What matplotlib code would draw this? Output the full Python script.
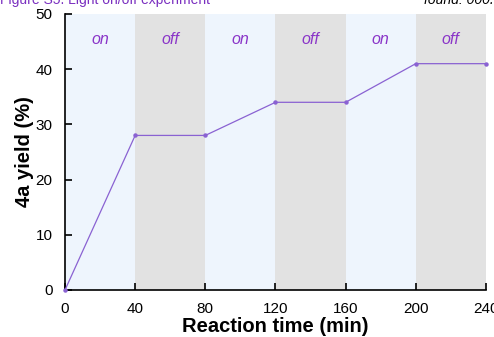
import numpy as np
import matplotlib.pyplot as plt

plt.rcParams['font.family'] = ['Liberation Sans', 'DejaVu Sans']

# reaction time (min) and yield (%)
time_min = [0, 40, 80, 120, 160, 200, 240]
yield_pct = [0, 28, 28, 34, 34, 41, 41]

# light on / off periods
periods = [(0, 40), (40, 80), (80, 120), (120, 160), (160, 200), (200, 240)]
states = ['on', 'off', 'on', 'off', 'on', 'off']

fig = plt.figure(figsize=(4.94, 3.37), dpi=100)
ax = fig.add_axes([0.1316, 0.1395, 0.852, 0.819])

shade = {'on': '#eef5fd', 'off': '#e2e2e2'}
for (a, b), s in zip(periods, states):
    ax.axvspan(a, b, color=shade[s], lw=0, zorder=0)
    ax.text((a + b) / 2, 45.3, s, color='#8a35c8', fontsize=11.5,
            style='italic', ha='center', va='center')

ax.plot(time_min, yield_pct, color='#8a62d2', lw=0.9, marker='o',
        markersize=2.2, zorder=3, clip_on=False)

ax.set_xlim(0, 240)
ax.set_ylim(0, 50)
ax.set_xticks([0, 40, 80, 120, 160, 200, 240])
ax.set_yticks([0, 10, 20, 30, 40, 50])
ax.spines['top'].set_visible(False)
ax.spines['right'].set_visible(False)
ax.spines['left'].set_linewidth(1.2)
ax.spines['bottom'].set_linewidth(1.2)
ax.tick_params(direction='in', length=5, width=1.2, labelsize=11)
ax.tick_params(axis='x', pad=8.5)
ax.tick_params(axis='y', pad=9)

ax.set_xlabel('Reaction time (min)', fontsize=14.5, fontweight='bold', labelpad=1)
ax.set_ylabel('4a yield (%)', fontsize=14.5, fontweight='bold', labelpad=1)

# cropped caption fragments at the top edge
fig.text(0.0, 1.0, 'Figure S5. Light on/off experiment', color='#7a2fc0',
         fontsize=10, va='center', ha='left')
fig.text(1.0, 1.0, 'found: 000.', color='black', fontsize=10,
         style='italic', va='center', ha='right')

fig.savefig('out.png', dpi=100)
